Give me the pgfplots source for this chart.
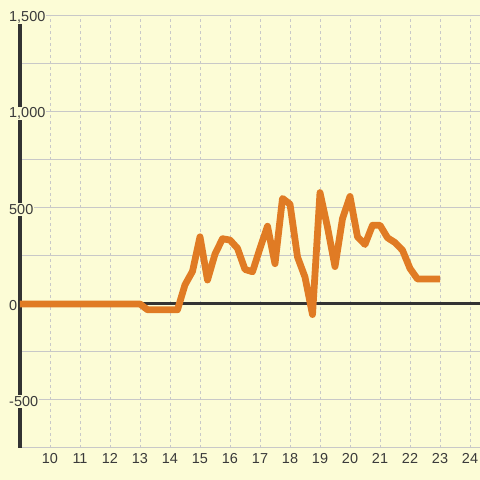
\documentclass[border=0pt]{standalone}
\usepackage{fontspec}
\setmainfont{Liberation Sans}
\usepackage{pgfplots}
\pgfplotsset{compat=1.18}
\definecolor{bg}{HTML}{FCFCD6}
\definecolor{ln}{HTML}{E07B24}
\definecolor{gridc}{HTML}{C8C8C8}
\definecolor{dark}{HTML}{333333}
\definecolor{txt}{HTML}{3A3A3A}
\begin{document}
\begin{tikzpicture}
\fill[bg] (0,0) rectangle (480bp,480bp);
\begin{axis}[
    scale only axis,
    at={(20bp,32bp)}, anchor=south west,
    width=460bp, height=432bp,
    xmin=9, xmax=24.3333,
    ymin=-750, ymax=1500,
    axis x line*=bottom,
    axis y line*=left,
    x axis line style={gridc, line width=1bp, -},
    y axis line style={dark, line width=3bp, -},
    xtick={10,...,24},
    ytick={-500,0,500,1000,1500},
    yticklabels={-500,0,500,{1,000},{1,500}},
    minor ytick={-750,-250,250,750,1250},
    major tick length=0pt, minor tick length=0pt,
    xmajorgrids, ymajorgrids, yminorgrids,
    x grid style={gridc, line width=0.8bp, dash pattern=on 3bp off 3bp},
    y grid style={gridc, line width=1bp},
    minor y grid style={gridc, line width=1bp},
    tick label style={font=\fontsize{14.5}{16}\selectfont, text=txt},
    yticklabel style={anchor=west, xshift=-12bp, yshift=-1.5bp, fill=bg, inner sep=1bp},
    xticklabel style={yshift=-2bp},
    /pgf/number format/assume math mode=true,
    clip=false,
]
\draw[dark, line width=3bp] (axis cs:9,0) -- (axis cs:24.3333,0);
\addplot[ln, line width=6.8bp, line join=round] coordinates {
    (9,0) (13,0) (13.25,-30) (14.25,-30) (14.5,100) (14.75,170) (15,350)
    (15.25,125) (15.5,260) (15.75,340) (16,333) (16.25,290) (16.5,180)
    (16.75,168) (17,290) (17.25,405) (17.5,210) (17.75,550) (18,520)
    (18.25,245) (18.5,140) (18.75,-55) (19,580) (19.25,400) (19.5,195)
    (19.75,445) (20,560) (20.25,350) (20.5,310) (20.75,410) (21,410)
    (21.25,345) (21.5,320) (21.75,280) (22,185) (22.25,130) (23,130)
};
\end{axis}
\pgfresetboundingbox
\useasboundingbox (0,0) rectangle (480bp,480bp);
\end{tikzpicture}
\end{document}
